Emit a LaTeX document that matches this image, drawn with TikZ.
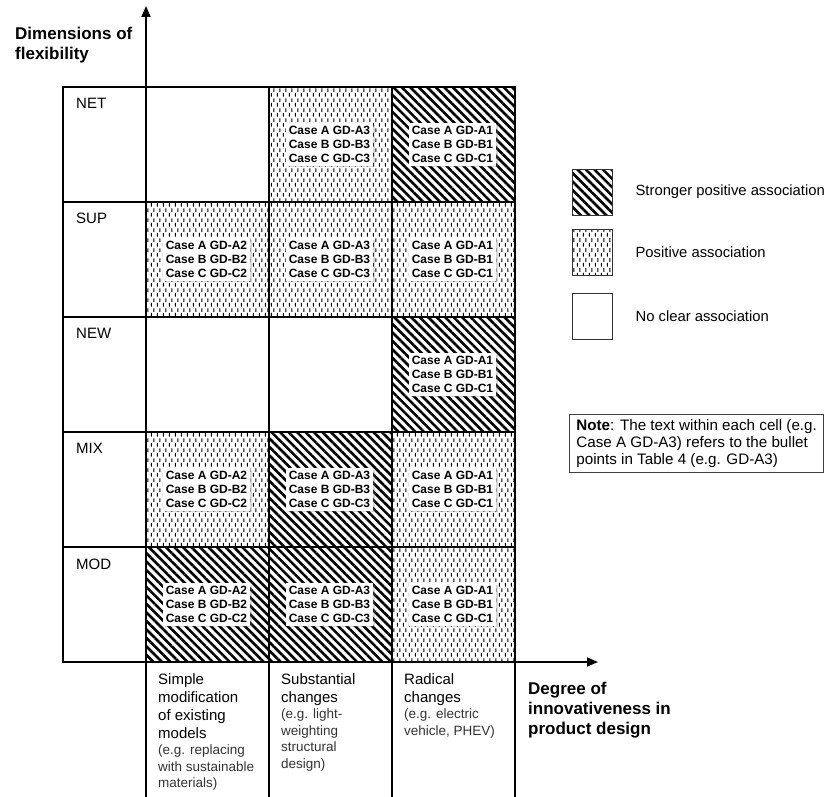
\documentclass[tikz,border=0pt]{standalone}
\usepackage{fontspec}
\setmainfont{Liberation Sans}
\usetikzlibrary{positioning,patterns.meta,shadows,arrows.meta}

\tikzdeclarepattern{
  name=vdashes,
  type=uncolored,
  bottom left={(0pt,0pt)},
  top right={(6pt,10pt)},
  tile size={(6pt,10pt)},
  code={
    \draw[line width=1.1pt] (1.5pt,0.5pt) -- (1.5pt,4.5pt) (4.5pt,5.5pt) -- (4.5pt,9.5pt);
  }
}

\tikzset{
  strong/.style={pattern={Lines[angle=-45,distance=6pt,line width=2.6pt]}},
  positive/.style={pattern=vdashes},
  grid/.style={line width=1.3pt},
  axis/.style={line width=1.8pt, -{Triangle[length=11pt,width=9pt]}},
  casebox/.style={fill=white, inner sep=3pt, align=left,
    font=\bfseries\fontsize{12}{14}\selectfont,
    drop shadow={shadow xshift=2pt, shadow yshift=-1.5pt, opacity=0.3}},
  rowlabel/.style={anchor=west, inner sep=0pt, font=\fontsize{15}{18}\selectfont},
  axislabel/.style={anchor=north west, inner sep=0pt, align=left,
    font=\bfseries\fontsize{17}{20}\selectfont},
  collabel/.style={anchor=north west, inner sep=0pt, align=left,
    font=\fontsize{15}{18}\selectfont},
  colnote/.style={anchor=north west, inner sep=0pt, align=left,
    text=black!80, font=\fontsize{13.5}{16.5}\selectfont},
  legendbox/.style={draw=black!80, line width=0.8pt, minimum width=40pt, minimum height=46pt},
  legendtext/.style={inner sep=0pt, font=\fontsize{14.8}{18}\selectfont},
  notebox/.style={draw=black!75, line width=0.8pt, align=left, inner xsep=7pt, inner ysep=5pt,
    font=\fontsize{15.2}{17}\selectfont}
}

\begin{document}
\begin{tikzpicture}[x=1pt,y=-1pt]
  \useasboundingbox (0,0) rectangle (832,797);

  % cell fills
  \fill[positive] (269,87) rectangle (392,202);
  \fill[strong] (392,87) rectangle (515,202);
  \fill[positive] (146,202) rectangle (515,317);
  \fill[strong] (392,317) rectangle (515,432);
  \fill[positive] (146,432) rectangle (269,547);
  \fill[strong] (269,432) rectangle (392,547);
  \fill[positive] (392,432) rectangle (515,547);
  \fill[strong] (146,547) rectangle (392,662);
  \fill[positive] (392,547) rectangle (515,662);

  % grid
  \draw[grid] (63,87) rectangle (515,662);
  \draw[grid] (63,202) -- (515,202);
  \draw[grid] (63,317) -- (515,317);
  \draw[grid] (63,432) -- (515,432);
  \draw[grid] (63,547) -- (515,547);
  \draw[grid] (269,87) -- (269,797);
  \draw[grid] (392,87) -- (392,797);
  \draw[grid] (515,87) -- (515,797);

  % axes
  \coordinate (ybottom) at (146,797);
  \coordinate (ytip) at (146,6);
  \coordinate (xstart) at (63,662);
  \coordinate (xtip) at (598,662);
  \draw[axis] (ybottom) -- (ytip);
  \draw[axis] (xstart) -- (xtip);

  \node[axislabel] (ylabel) at (15,26.5) {Dimensions of\\flexibility};
  \node[axislabel] (xlabel) at (528,681.5) {Degree of\\innovativeness in\\product design};

  % rows
  \node[rowlabel] (net) at (76,103) {NET};
  \node[rowlabel] (sup) at (76,218) {SUP};
  \node[rowlabel] (new) at (76,333) {NEW};
  \node[rowlabel] (mix) at (76,448) {MIX};
  \node[rowlabel] (mod) at (76,564) {MOD};

  % cell texts
  \node[casebox] (netb) at (329.5,144.5) {Case A GD-A3\\Case B GD-B3\\Case C GD-C3};
  \node[casebox] (netc) at (452.5,144.5) {Case A GD-A1\\Case B GD-B1\\Case C GD-C1};
  \node[casebox] (supa) at (206.5,259.5) {Case A GD-A2\\Case B GD-B2\\Case C GD-C2};
  \node[casebox] (supb) at (329.5,259.5) {Case A GD-A3\\Case B GD-B3\\Case C GD-C3};
  \node[casebox] (supc) at (452.5,259.5) {Case A GD-A1\\Case B GD-B1\\Case C GD-C1};
  \node[casebox] (newc) at (452.5,374.5) {Case A GD-A1\\Case B GD-B1\\Case C GD-C1};
  \node[casebox] (mixa) at (206.5,489.5) {Case A GD-A2\\Case B GD-B2\\Case C GD-C2};
  \node[casebox] (mixb) at (329.5,489.5) {Case A GD-A3\\Case B GD-B3\\Case C GD-C3};
  \node[casebox] (mixc) at (452.5,489.5) {Case A GD-A1\\Case B GD-B1\\Case C GD-C1};
  \node[casebox] (moda) at (206.5,604.5) {Case A GD-A2\\Case B GD-B2\\Case C GD-C2};
  \node[casebox] (modb) at (329.5,604.5) {Case A GD-A3\\Case B GD-B3\\Case C GD-C3};
  \node[casebox] (modc) at (452.5,604.5) {Case A GD-A1\\Case B GD-B1\\Case C GD-C1};

  % columns
  \node[collabel] (simple) at (158,673) {Simple\\modification\\of existing\\models};
  \node[colnote] (simplenote) at (158,745) {(e.g. replacing\\with sustainable\\materials)};
  \node[collabel] (subst) at (281,673) {Substantial\\changes};
  \node[colnote] (substnote) at (281,709) {(e.g. light-\\weighting\\structural\\design)};
  \node[collabel] (radical) at (404,673) {Radical\\changes};
  \node[colnote] (radicalnote) at (404,709) {(e.g. electric\\vehicle, PHEV)};

  % legend
  \node[legendbox, strong] (legstrong) at (592,192) {};
  \node[legendbox, positive] (legpos) at (592,252.5) {};
  \node[legendbox] (legnone) at (592,316) {};
  \node[legendtext, right=23pt of legstrong] (legstrongtext) {Stronger positive association};
  \node[legendtext, right=23pt of legpos] (legpostext) {Positive association};
  \node[legendtext, right=23pt of legnone] (legnonetext) {No clear association};

  \node[notebox, anchor=north west] (note) at (569,414) {\textbf{Note}: The text within each cell (e.g.\\Case A GD-A3) refers to the bullet\\points in Table 4 (e.g. GD-A3)};
\end{tikzpicture}
\end{document}
